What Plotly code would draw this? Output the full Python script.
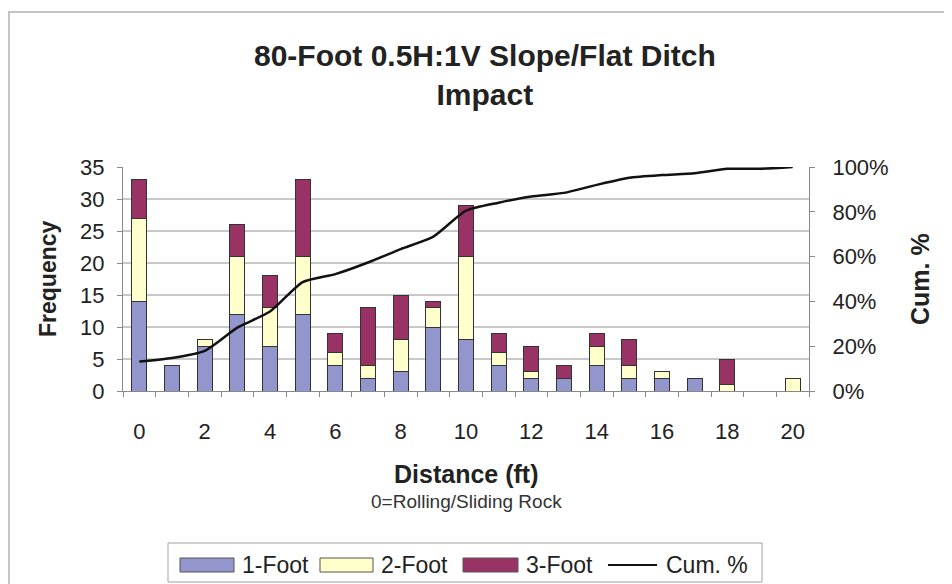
import plotly.graph_objects as go

distance = list(range(0, 21))
one_foot = [14, 4, 7, 12, 7, 12, 4, 2, 3, 10, 8, 4, 2, 2, 4, 2, 2, 2, 0, 0, 0]
two_foot = [13, 0, 1, 9, 6, 9, 2, 2, 5, 3, 13, 2, 1, 0, 3, 2, 1, 0, 1, 0, 2]
three_foot = [6, 0, 0, 5, 5, 12, 3, 9, 7, 1, 8, 3, 4, 2, 2, 4, 0, 0, 4, 0, 0]
x_tick_vals = [0, 2, 4, 6, 8, 10, 12, 14, 16, 18, 20]
series_names = ["1-Foot", "2-Foot", "3-Foot", "Cum. %"]
series_colors = ["#9396cc", "#ffffcc", "#993366", "#111111"]

totals = [a + b + c for a, b, c in zip(one_foot, two_foot, three_foot)]
grand = sum(totals)
cum_pct = []
run = 0
for t in totals:
    run += t
    cum_pct.append(run / grand * 100)

FONT = "Liberation Sans, Arial, sans-serif"
OFF = 8  # page body margin offset
W, H = 952 - OFF, 584 - OFF
L, R, T, B = 123 - OFF, 809 - OFF, 167 - OFF, 391 - OFF
pw, ph = R - L, B - T


def px(x):  # x in reference-image pixels -> paper
    return (x - OFF - L) / pw


def py(y):  # y in reference-image pixels -> paper
    return (B - (y - OFF)) / ph


line_col = "#333333"
fig = go.Figure()
for vals, name, col in zip([one_foot, two_foot, three_foot], series_names[:3], series_colors[:3]):
    fig.add_trace(go.Bar(x=distance, y=vals, name=name, width=0.45, showlegend=False,
                         marker=dict(color=col, line=dict(color=line_col, width=1))))
fig.add_trace(go.Scatter(x=distance, y=cum_pct, name=series_names[3], mode="lines", yaxis="y2",
                         showlegend=False,
                         line=dict(color=series_colors[3], width=2.5, shape="spline", smoothing=0.6)))

TXT = "#222222"
annotations = [
    dict(text="<b>80-Foot 0.5H:1V Slope/Flat Ditch<br>Impact</b>", x=px(485), y=py(75),
         xref="paper", yref="paper", showarrow=False, font=dict(size=30, color=TXT),
         xanchor="center", yanchor="middle"),
    dict(text="<b>Frequency</b>", x=px(48), y=0.5, xref="paper", yref="paper",
         showarrow=False, textangle=-90, font=dict(size=23, color=TXT),
         xanchor="center", yanchor="middle"),
    dict(text="<b>Cum. %</b>", x=px(920), y=0.5, xref="paper", yref="paper",
         showarrow=False, textangle=-90, font=dict(size=25, color=TXT),
         xanchor="center", yanchor="middle"),
    dict(text="<b>Distance (ft)</b>", x=0.5, y=py(474), xref="paper", yref="paper",
         showarrow=False, font=dict(size=25, color=TXT),
         xanchor="center", yanchor="middle"),
    dict(text="0=Rolling/Sliding Rock", x=0.5, y=py(501), xref="paper", yref="paper",
         showarrow=False, font=dict(size=19, color="#333333"),
         xanchor="center", yanchor="middle"),
]

shapes = [
    dict(type="rect", xref="paper", yref="paper", x0=px(9), x1=px(970), y0=py(610),
         y1=py(12), line=dict(color="#c4c4c4", width=2), fillcolor="rgba(0,0,0,0)",
         layer="below"),
    # legend frame
    dict(type="rect", xref="paper", yref="paper", x0=px(168), x1=px(762), y0=py(582),
         y1=py(543), line=dict(color="#a0a0a0", width=1), fillcolor="white", layer="below"),
]

# legend entries (swatch + label)
leg_y = 565
swatch_x = [(180, 234), (320, 373), (463, 518)]
text_x = [240, 379, 524, 664]
for i in range(3):
    x0, x1 = swatch_x[i]
    shapes.append(dict(type="rect", xref="paper", yref="paper", x0=px(x0), x1=px(x1),
                       y0=py(leg_y + 7), y1=py(leg_y - 7), fillcolor=series_colors[i],
                       line=dict(color="#555555", width=1)))
shapes.append(dict(type="line", xref="paper", yref="paper", x0=px(608), x1=px(657),
                   y0=py(leg_y), y1=py(leg_y), line=dict(color=series_colors[3], width=2)))
for i in range(4):
    annotations.append(dict(text=series_names[i], x=px(text_x[i]), y=py(leg_y), xref="paper",
                            yref="paper", showarrow=False, xanchor="left", yanchor="middle",
                            font=dict(size=23, color=TXT)))

fig.update_layout(
    width=W, height=H,
    margin=dict(l=L, r=W - R, t=T, b=H - B, autoexpand=False),
    barmode="stack",
    plot_bgcolor="white", paper_bgcolor="white",
    font=dict(family=FONT, size=22, color=TXT),
    showlegend=False,
    xaxis=dict(range=[-0.5, 20.5], tickvals=x_tick_vals, ticks="", showgrid=False,
               showline=True, linecolor="#888888", linewidth=1, zeroline=False,
               ticklabelstandoff=21,
               minor=dict(ticks="outside", tick0=-0.5, dtick=1, ticklen=5,
                          tickcolor="#888888", showgrid=False)),
    yaxis=dict(range=[0, 35], dtick=5, showgrid=True, gridcolor="#c8c8c8", gridwidth=1.5,
               showline=True, linecolor="#888888", ticks="outside", ticklen=5,
               tickcolor="#888888", zeroline=False, ticklabelstandoff=8),
    yaxis2=dict(range=[0, 100], dtick=20, ticksuffix="%", overlaying="y", side="right",
                showgrid=False, showline=True, linecolor="#888888", ticks="outside",
                ticklen=5, tickcolor="#888888", zeroline=False, ticklabelstandoff=13),
    annotations=annotations,
    shapes=shapes,
)

fig.write_html("out.html")
